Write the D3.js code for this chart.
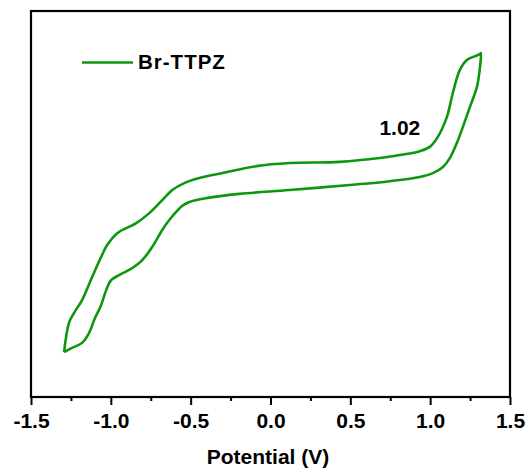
<!DOCTYPE html>
<html>
<head>
<meta charset="utf-8">
<script src="https://cdn.jsdelivr.net/npm/d3@7"></script>
<style>
  body { margin: 0; background: #fff; }
  text { font-family: "Liberation Sans", Arial, sans-serif; font-weight: bold; }
</style>
</head>
<body>
<div id="chart"></div>
<script>
// closed CV loop, potential (V) and current (arb. units), starting at the lower-left tip
const potential = [-1.293, -1.262, -1.230, -1.180, -1.117, -1.061, -1.023, -0.960, -0.841, -0.759,
  -0.684, -0.615, -0.540, -0.446, -0.301, -0.088, 0.119, 0.433, 0.684, 0.810,
  0.935, 0.998, 1.048, 1.105, 1.142, 1.186, 1.230, 1.312, 1.318,
  1.312, 1.293, 1.249, 1.205, 1.167, 1.123, 1.080, 1.017, 0.935, 0.747,
  0.496, 0.119, -0.195, -0.402, -0.508, -0.552, -0.634, -0.678, -0.741, -0.803,
  -0.866, -0.948, -0.998, -1.029, -1.061, -1.105, -1.136, -1.180, -1.243, -1.293];
const current = [11.4, 19.0, 21.6, 24.9, 30.9, 36.1, 39.2, 42.3, 44.9, 47.5,
  50.6, 53.5, 55.3, 56.6, 57.9, 59.7, 60.5, 60.8, 61.8, 62.6,
  63.6, 64.7, 67.3, 72.5, 78.7, 84.7, 87.3, 88.8, 89.1,
  85.5, 80.3, 75.1, 69.9, 65.7, 61.8, 59.5, 57.9, 56.9, 55.8,
  54.8, 53.5, 52.5, 51.4, 50.4, 49.4, 45.7, 43.1, 38.7, 35.3,
  33.2, 31.4, 30.1, 27.5, 23.6, 19.7, 16.4, 13.8, 12.5, 11.4];
const xTicks = [-1.5, -1.0, -0.5, 0.0, 0.5, 1.0, 1.5];
const xMinorTicks = [-1.25, -0.75, -0.25, 0.25, 0.75, 1.25];
const seriesName = "Br-TTPZ";
const peakLabel = { v: 0.81, i: 67.8, text: "1.02" };

const w = 527, h = 469;
const mLeft = 31, mRight = 510, mTop = 11, mBottom = 397;
const green = "#0f960f";

const x = d3.scaleLinear().domain([-1.5, 1.5]).range([mLeft, mRight]);
const y = d3.scaleLinear().domain([0, 100]).range([396, mTop]);

const svg = d3.select("#chart").append("svg").attr("width", w).attr("height", h);

const pts = potential.map((v, i) => [v, current[i]]);
const line = d3.line().x(d => x(d[0])).y(d => y(d[1])).curve(d3.curveCatmullRom.alpha(0.5));

svg.append("path")
   .attr("d", line(pts))
   .attr("fill", "none")
   .attr("stroke", green)
   .attr("stroke-width", 2.6)
   .attr("stroke-linejoin", "round");

// axes
const xAxis = d3.axisBottom(x).tickValues(xTicks).tickSize(8).tickPadding(2);
const gx = svg.append("g").attr("transform", `translate(0,${mBottom})`).call(xAxis);
gx.select(".domain").remove();
gx.selectAll("line").attr("stroke", "#000").attr("stroke-width", 2);
gx.selectAll("text").attr("fill", "#000").attr("dy", "1.0em").style("font-size", "21px")
  .text(d => d3.format(".1f")(d).replace("−", "-"));

const gxm = svg.append("g").attr("transform", `translate(0,${mBottom})`)
  .call(d3.axisBottom(x).tickValues(xMinorTicks).tickSize(4).tickFormat(""));
gxm.select(".domain").remove();
gxm.selectAll("line").attr("stroke", "#000").attr("stroke-width", 2);

svg.append("rect")
   .attr("x", mLeft).attr("y", mTop)
   .attr("width", mRight - mLeft).attr("height", mBottom - mTop)
   .attr("fill", "none").attr("stroke", "#000").attr("stroke-width", 2.2);

svg.append("text")
   .attr("x", 268).attr("y", 464)
   .attr("text-anchor", "middle")
   .style("font-size", "21px")
   .text("Potential (V)");

// legend
svg.append("line").attr("x1", 82).attr("x2", 133).attr("y1", 62.5).attr("y2", 62.5)
   .attr("stroke", green).attr("stroke-width", 2.6);
svg.append("text").attr("x", 138).attr("y", 68.5)
   .style("font-size", "20.5px").style("letter-spacing", "1px").text(seriesName);

svg.append("text")
   .attr("x", x(peakLabel.v)).attr("y", y(peakLabel.i))
   .attr("text-anchor", "middle")
   .style("font-size", "21px")
   .text(peakLabel.text);
</script>
</body>
</html>
